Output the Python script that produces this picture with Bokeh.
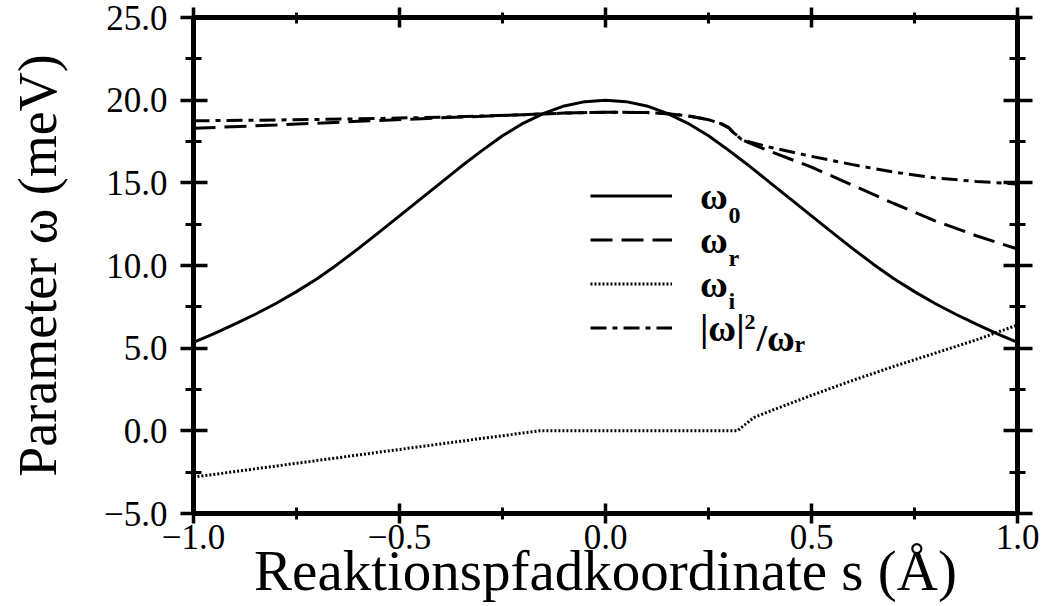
from bokeh.plotting import figure
from bokeh.models import (Range1d, LinearAxis, FixedTicker, Label, Legend,
                          LegendItem, CustomJSTickFormatter, CustomLabelingPolicy)
from bokeh.embed import file_html
from bokeh.resources import INLINE

# ---------------- data ----------------
s_w0 = [-1.00, -0.95, -0.90, -0.85, -0.80, -0.75, -0.70, -0.65, -0.60, -0.55,
        -0.50, -0.45, -0.40, -0.35, -0.30, -0.25, -0.20, -0.15, -0.10, -0.05,
        0.00, 0.05, 0.10, 0.15, 0.20, 0.25, 0.30, 0.35, 0.40, 0.45,
        0.50, 0.55, 0.60, 0.65, 0.70, 0.75, 0.80, 0.85, 0.90, 0.95, 1.00]
w0 = [5.35, 5.88, 6.45, 7.05, 7.70, 8.42, 9.20, 10.08, 11.02, 12.00,
      13.00, 14.00, 15.00, 16.00, 16.95, 17.85, 18.60, 19.20, 19.65, 19.91,
      20.00, 19.91, 19.65, 19.20, 18.60, 17.85, 16.95, 16.00, 15.00, 14.00,
      13.00, 12.00, 11.02, 10.08, 9.20, 8.42, 7.70, 7.05, 6.45, 5.88, 5.35]

s_wr = [-1.00, -0.80, -0.60, -0.40, -0.20, -0.10, 0.00, 0.10, 0.15, 0.20,
        0.25, 0.28, 0.30, 0.31, 0.32, 0.33, 0.35, 0.40, 0.50, 0.60,
        0.70, 0.80, 0.90, 1.00]
wr = [18.30, 18.50, 18.72, 18.93, 19.12, 19.22, 19.27, 19.25, 19.18, 19.05,
      18.82, 18.58, 18.32, 18.05, 17.85, 17.62, 17.40, 16.90, 15.95, 14.85,
      13.75, 12.70, 11.80, 11.00]

s_wi = [-1.00, -0.80, -0.60, -0.40, -0.20, -0.16, 0.00, 0.20, 0.32, 0.36,
        0.40, 0.50, 0.60, 0.70, 0.80, 0.90, 1.00]
wi = [-2.80, -2.13, -1.46, -0.79, -0.13, 0.00, 0.00, 0.00, 0.00, 0.80,
      1.20, 2.15, 3.05, 3.90, 4.70, 5.50, 6.40]

s_wm = [-1.00, -0.80, -0.60, -0.40, -0.20, -0.10, 0.00, 0.10, 0.15, 0.20,
        0.25, 0.28, 0.30, 0.31, 0.32, 0.33, 0.35, 0.40, 0.50, 0.60,
        0.70, 0.80, 0.90, 1.00]
wm = [18.75, 18.80, 18.87, 18.97, 19.12, 19.22, 19.27, 19.25, 19.18, 19.05,
      18.82, 18.58, 18.32, 18.05, 17.85, 17.62, 17.47, 17.15, 16.60, 16.10,
      15.65, 15.30, 15.08, 14.93]

x_major = [-1.0, -0.5, 0.0, 0.5, 1.0]
x_minor = [-0.75, -0.25, 0.25, 0.75]
y_major = [-5.0, 0.0, 5.0, 10.0, 15.0, 20.0, 25.0]
y_minor = [-2.5, 2.5, 7.5, 12.5, 17.5, 22.5]

x_title = "Reaktionspfadkoordinate s (Å)"
y_title = "Parameter ω (meV)"
legend_main = ["ω", "ω", "ω", "|ω|"]
legend_sub = ["0", "r", "i", "r"]

# ---------------- layout ----------------
W, H = 1048, 606
FL, FR, FT, FB = 193, 1017, 17, 513
X0, X1, Y0, Y1 = -1.0, 1.0, -5.0, 25.0
SERIF = "Liberation Serif"


def px2x(px):
    return X0 + (px - FL) / (FR - FL) * (X1 - X0)


def py2y(py):
    return Y1 - (py - FT) / (FB - FT) * (Y1 - Y0)


p = figure(width=W, height=H, x_range=Range1d(X0, X1), y_range=Range1d(Y0, Y1),
           output_backend="svg", toolbar_location=None,
           min_border_left=FL, min_border_right=W - FR,
           min_border_top=FT, min_border_bottom=H - FB)
p.outline_line_color = None
p.xgrid.visible = False
p.ygrid.visible = False
p.background_fill_color = "white"
p.border_fill_color = "white"

fmt = CustomJSTickFormatter(code="return tick.toFixed(1).replace('-', '\\u2212');")
no_labels = CustomLabelingPolicy(code="return [];")


def style(ax, mj_in, mj_out, mn_in, mn_out, labels=True):
    ax.axis_line_color = "black"
    ax.axis_line_width = 5
    ax.major_tick_line_color = "black"
    ax.minor_tick_line_color = "black"
    ax.major_tick_line_width = 3.5
    ax.minor_tick_line_width = 3
    ax.major_tick_in = mj_in
    ax.major_tick_out = mj_out
    ax.minor_tick_in = mn_in
    ax.minor_tick_out = mn_out
    ax.major_label_text_font = SERIF
    ax.major_label_text_color = "black"
    ax.formatter = fmt
    if labels:
        ax.major_label_text_font_size = "35px"
    else:
        ax.major_label_text_font_size = "1px"
        ax.major_label_standoff = 0
        ax.major_label_policy = no_labels


xa = p.xaxis[0]
xa.ticker = FixedTicker(ticks=x_major, minor_ticks=x_minor)
style(xa, 10, 10, 6, 6)
xa.major_label_standoff = 1
xa.axis_label = x_title
xa.axis_label_text_font = SERIF
xa.axis_label_text_font_style = "normal"
xa.axis_label_text_font_size = "57px"
xa.axis_label_text_color = "black"
xa.axis_label_standoff = -13

ya = p.yaxis[0]
ya.ticker = FixedTicker(ticks=y_major, minor_ticks=y_minor)
style(ya, 14, 13, 8, 8)
ya.major_label_standoff = 13
ya.axis_label = y_title
ya.axis_label_text_font = SERIF
ya.axis_label_text_font_style = "normal"
ya.axis_label_text_font_size = "54px"
ya.axis_label_text_color = "black"
ya.axis_label_standoff = 33

top = LinearAxis(ticker=FixedTicker(ticks=x_major, minor_ticks=x_minor))
style(top, 10, 10, 6, 5, labels=False)
p.add_layout(top, "above")
right = LinearAxis(ticker=FixedTicker(ticks=y_major, minor_ticks=y_minor))
style(right, 14, 15, 8, 8, labels=False)
p.add_layout(right, "right")

# ---------------- curves ----------------
r0 = p.line(s_w0, w0, line_color="black", line_width=3)
rr = p.line(s_wr, wr, line_color="black", line_width=3, line_dash="22 9")
ri = p.line(s_wi, wi, line_color="black", line_width=3, line_dash="2 2")
rm = p.line(s_wm, wm, line_color="black", line_width=3, line_dash="16 6 5 6")

# ---------------- legend ----------------
LEG_LEFT, GLYPH_W, TX, ROW_H = 590, 82, 700, 43
LEG_TOP = 177.5
FS_MAIN = 38
ROW_C = [LEG_TOP + ROW_H * (k + 0.5) for k in range(4)]
legend = Legend(items=[LegendItem(label=t, renderers=[r])
                       for t, r in zip(legend_main, (r0, rr, ri, rm))],
                location=(LEG_LEFT - FL, FB - (LEG_TOP + 4 * ROW_H)),
                glyph_width=GLYPH_W, glyph_height=ROW_H, spacing=0, padding=0, margin=0,
                label_standoff=TX - LEG_LEFT - GLYPH_W, label_height=0,
                label_text_font=SERIF, label_text_font_style="bold",
                label_text_font_size=f"{FS_MAIN}px",
                label_text_color="black",
                border_line_alpha=0, background_fill_alpha=0)
p.add_layout(legend)

BASE_OFF = 9.5          # label baseline below row centre (px)
SUB_X = [TX + 28, TX + 28, TX + 28, TX + 94]
for k in range(4):
    base = ROW_C[k] + BASE_OFF
    p.add_layout(Label(x=px2x(SUB_X[k]), y=py2y(base + 6), text=legend_sub[k],
                       text_font=SERIF, text_font_style="bold", text_font_size="24px",
                       text_color="black", text_baseline="alphabetic", text_align="left"))
base4 = ROW_C[3] + BASE_OFF
p.add_layout(Label(x=px2x(TX + 44), y=py2y(base4 - 16), text="2",
                   text_font=SERIF, text_font_style="bold", text_font_size="22px",
                   text_color="black", text_baseline="alphabetic", text_align="left"))
p.add_layout(Label(x=px2x(TX + 56), y=py2y(base4), text="/ω",
                   text_font=SERIF, text_font_style="bold", text_font_size=f"{FS_MAIN}px",
                   text_color="black", text_baseline="alphabetic", text_align="left"))

open("out.html", "w").write(file_html(p, INLINE))
